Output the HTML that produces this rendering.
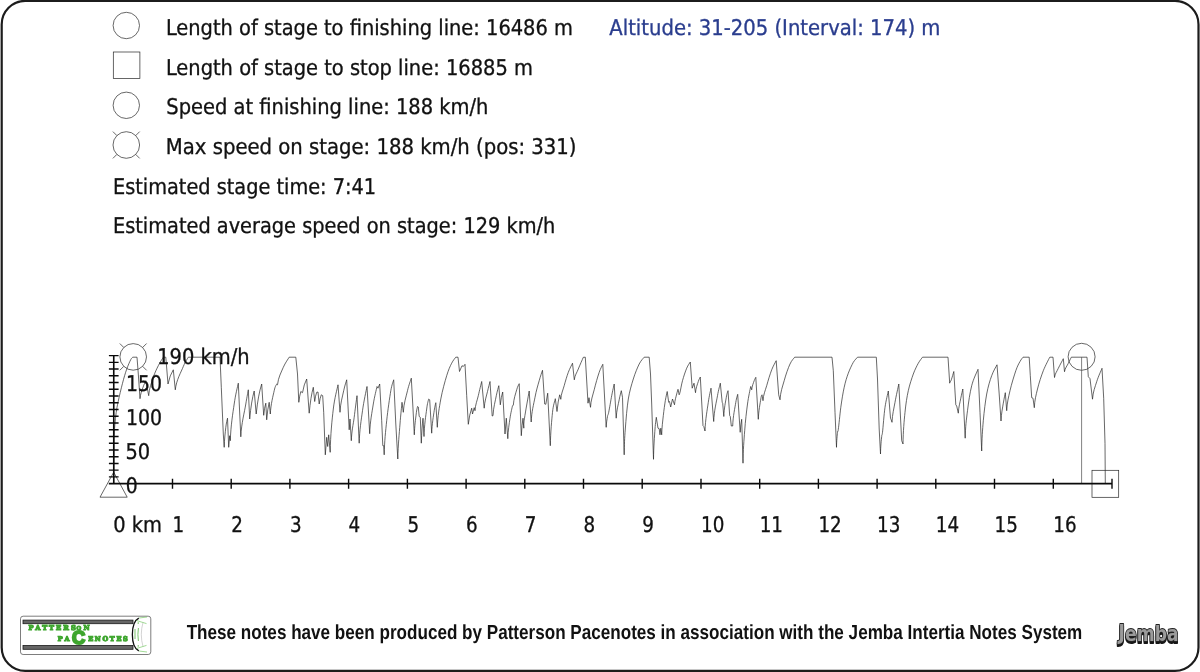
<!DOCTYPE html>
<html lang="en"><head><meta charset="utf-8"><title>Stage speed profile</title>
<style>
html,body{margin:0;padding:0;background:#fff;}
body{width:1200px;height:672px;overflow:hidden;}
svg{display:block}
.t{font-family:"DejaVu Sans Condensed","DejaVu Sans","Liberation Sans",sans-serif;font-size:21.6px;fill:#111;stroke:#111;stroke-width:0.3px;text-rendering:geometricPrecision;}
.b{fill:#2a3d8e;stroke:#2a3d8e;}
.f{font-family:"Liberation Sans",sans-serif;font-weight:bold;font-size:20.4px;fill:#111;text-rendering:geometricPrecision;}
.thin{fill:none;stroke:#262626;stroke-width:0.7;}
.ax{fill:none;stroke:#111;stroke-width:1.4;}
</style></head><body>
<svg width="1200" height="672" viewBox="0 0 1200 672">
<rect x="0" y="0" width="1200" height="672" fill="#fff"/>
<rect x="1.7" y="0.9" width="1196.8" height="670" rx="23.5" ry="23.5" fill="none" stroke="#1c1c1c" stroke-width="2.2"/>
<circle class="thin" cx="126.3" cy="25.5" r="13.2"/>
<rect class="thin" x="113.3" y="52" width="26.6" height="26.5"/>
<circle class="thin" cx="126.3" cy="105.3" r="13.2"/>
<circle class="thin" cx="126.3" cy="145.0" r="13.3"/>
<path class="thin" d="M135.7,154.4 L139.7,158.4 M116.9,154.4 L112.9,158.4 M116.9,135.6 L112.9,131.6 M135.7,135.6 L139.7,131.6"/>
<text class="t" x="165.91" y="35" textLength="407.0" lengthAdjust="spacingAndGlyphs">Length of stage to finishing line: 16486 m</text>
<text class="t" x="165.91" y="75" textLength="366.97" lengthAdjust="spacingAndGlyphs">Length of stage to stop line: 16885 m</text>
<text class="t" x="166.35" y="114" textLength="322.12" lengthAdjust="spacingAndGlyphs">Speed at finishing line: 188 km/h</text>
<text class="t" x="165.84" y="154" textLength="410.62" lengthAdjust="spacingAndGlyphs">Max speed on stage: 188 km/h (pos: 331)</text>
<text class="t" x="112.96" y="194" textLength="263.17" lengthAdjust="spacingAndGlyphs">Estimated stage time: 7:41</text>
<text class="t" x="112.93" y="233" textLength="442.41" lengthAdjust="spacingAndGlyphs">Estimated average speed on stage: 129 km/h</text>
<text class="t b" x="609.34" y="35" textLength="331.1" lengthAdjust="spacingAndGlyphs">Altitude: 31-205 (Interval: 174) m</text>
<path class="thin" d="M113.7,483.7 L114.0,440.0 C114.1,433.7 114.5,429.6 114.8,425.0 C115.2,420.4 115.7,416.4 116.2,412.5 C116.8,408.6 117.1,406.4 118.2,401.5 C119.2,396.6 121.1,388.7 122.5,383.3 C123.9,377.9 125.3,373.1 126.7,369.2 C128.1,365.2 129.8,361.5 130.8,359.5 C131.9,357.5 132.5,357.6 132.8,357.2 L137.0,357.2 L138.3,374.0 L140.0,398.7 C140.4,393.9 142.0,390.3 143.0,387.3 C144.0,384.3 145.4,381.8 145.8,380.7 L148.7,395.7 C149.2,388.0 151.7,382.3 153.3,377.3 C154.9,372.3 156.7,369.0 158.3,365.7 C160.0,362.3 162.5,358.6 163.3,357.2 L165.8,357.2 L168.0,384.0 Q169.9,374.9 173.3,369.8 L175.3,389.8 C176.3,380.0 181.2,371.9 183.3,366.5 C185.5,361.1 187.5,358.8 188.3,357.2 L220.0,357.2 L221.3,387.3 L223.3,434.0 L224.2,447.3 C224.4,438.9 225.3,432.2 225.8,427.3 C226.4,422.5 227.2,419.7 227.5,418.2 L228.7,447.3 L229.7,435.7 L230.3,440.7 C230.8,425.3 232.8,413.6 234.2,404.0 C235.5,394.4 237.6,386.6 238.3,383.2 L240.8,436.8 C241.4,423.0 244.6,411.8 245.8,404.0 C247.1,396.2 247.9,392.2 248.3,389.8 L249.7,419.0 Q251.3,401.1 254.2,391.0 L256.2,414.0 Q258.2,394.8 261.7,384.0 L263.7,415.3 Q264.4,407.5 265.8,403.2 L266.7,419.8 Q267.6,408.6 269.2,402.3 L270.3,414.0 C270.8,404.2 273.1,395.7 274.2,390.7 C275.2,385.7 276.3,385.1 276.7,384.0 L277.5,384.8 C278.2,377.5 281.4,371.9 283.3,367.3 C285.3,362.7 288.2,358.9 289.2,357.2 L295.8,357.2 L297.5,374.0 L298.8,402.3 Q299.6,395.4 300.8,391.5 L302.5,392.7 Q304.0,383.9 306.7,379.0 L309.2,413.2 Q310.7,396.6 313.3,387.3 L314.7,401.5 Q315.4,395.6 316.7,392.3 L318.0,392.0 L319.2,404.0 Q319.9,398.1 321.3,394.8 L322.7,395.7 L323.7,412.3 L325.3,454.8 L326.7,437.3 L327.7,446.5 L328.7,434.8 L330.2,452.3 C330.5,434.1 332.0,420.2 333.3,409.0 C334.6,397.8 337.2,388.9 338.0,384.8 L340.0,412.3 C340.4,403.2 342.6,396.1 343.7,390.7 C344.8,385.3 346.2,381.6 346.7,379.8 L349.2,429.8 L350.0,419.0 L351.3,440.7 C351.7,430.9 353.2,424.8 354.2,417.3 C355.1,409.8 356.5,399.3 357.0,395.7 L359.2,443.2 C359.6,429.5 361.2,420.1 362.5,410.7 C363.8,401.2 366.2,390.5 367.0,386.5 L369.7,433.7 C370.1,421.2 372.1,411.9 373.3,404.0 C374.6,396.1 376.4,389.4 377.0,386.5 L378.0,388.2 L379.7,384.0 L381.7,420.7 L382.8,445.7 L383.7,445.7 L384.2,454.8 C384.5,440.5 385.6,431.4 386.7,420.7 C387.8,410.0 389.7,397.5 390.8,390.7 C392.0,383.9 393.2,381.6 393.7,379.8 L395.8,424.0 L397.8,459.0 C398.1,444.3 399.3,433.4 400.0,424.0 C400.7,414.6 401.7,405.9 402.0,402.3 L403.3,412.3 C403.8,403.2 406.2,396.4 407.5,390.7 C408.8,385.0 410.7,380.3 411.3,378.2 L413.0,409.0 L414.3,434.8 C414.6,426.1 415.6,418.7 416.2,414.0 C416.7,409.3 417.3,407.8 417.5,406.5 L418.3,407.0 L419.2,416.5 L420.3,417.3 L421.3,443.2 Q421.9,427.2 423.0,418.2 L424.0,436.5 C424.3,424.9 425.9,415.2 426.7,409.0 C427.4,402.8 428.3,400.7 428.7,399.0 L429.7,399.8 L431.7,433.2 C432.0,423.7 433.5,415.8 434.2,410.7 C434.9,405.6 435.6,404.0 435.8,402.7 L437.3,427.3 C437.8,415.4 439.3,407.6 440.8,399.0 C442.4,390.4 444.9,381.6 446.7,375.7 C448.5,369.7 450.1,366.2 451.7,363.2 C453.2,360.1 455.1,358.2 455.8,357.2 L458.0,357.2 L459.5,371.5 L462.0,365.7 L463.3,366.5 L465.0,364.3 L466.7,395.7 L468.3,424.3 Q469.5,414.0 471.7,408.2 L472.5,414.0 L474.2,407.7 L475.0,410.7 C475.4,404.4 477.2,400.5 478.3,395.7 C479.4,390.8 481.1,383.9 481.7,381.5 L484.2,408.2 C484.6,401.2 486.5,395.9 487.5,391.5 C488.5,387.1 489.6,383.2 490.0,381.5 L492.2,416.0 L493.0,415.7 C493.4,407.3 495.4,400.7 496.3,395.7 C497.3,390.7 498.4,387.3 498.8,385.7 L500.3,404.8 Q501.2,396.6 502.7,392.0 L505.0,434.0 L506.3,418.2 L507.8,438.7 C508.1,430.1 509.2,423.7 510.0,418.2 C510.8,412.7 512.1,407.8 512.5,405.7 L513.3,405.3 C513.7,398.8 515.7,393.4 516.7,389.8 C517.6,386.2 518.8,384.7 519.2,383.7 L521.3,435.7 Q521.9,424.5 523.0,418.2 L523.8,428.2 C523.9,424.0 523.6,424.4 524.5,418.2 C525.4,412.0 528.4,395.5 529.2,391.0 L531.2,422.0 C531.6,411.6 533.7,404.2 535.0,397.3 C536.3,390.4 537.9,385.2 539.2,380.7 C540.4,376.2 541.9,372.1 542.5,370.3 L544.7,404.0 L545.8,404.3 L547.7,393.2 L550.3,445.7 C550.6,431.7 551.7,420.2 552.5,412.3 C553.3,404.5 554.9,400.9 555.3,398.7 L557.0,411.5 Q558.0,400.8 559.7,394.8 L560.8,399.3 C561.2,393.6 562.9,390.2 564.2,385.7 C565.4,381.2 566.9,376.1 568.3,372.3 C569.7,368.6 571.8,364.7 572.5,363.2 L574.3,379.8 C574.8,375.3 576.8,372.8 578.3,369.0 C579.8,365.2 582.5,359.3 583.3,357.3 L585.3,357.2 L588.0,403.2 L589.0,397.7 L590.5,407.3 C590.9,400.0 592.7,395.7 594.2,389.8 C595.6,384.0 597.7,376.6 599.2,372.3 C600.6,368.1 602.2,365.7 602.8,364.3 L606.2,427.3 C606.3,422.8 607.1,419.0 607.5,416.5 C607.9,414.0 608.0,415.8 608.7,412.3 C609.4,408.9 610.8,400.4 611.7,395.7 C612.6,390.9 613.8,385.9 614.2,384.0 L616.2,418.2 C616.5,410.5 618.3,404.4 619.2,399.8 C620.0,395.2 621.0,392.2 621.3,390.7 L622.5,397.3 L624.2,454.8 C624.3,444.0 624.6,438.3 625.3,429.0 C626.0,419.7 627.0,407.3 628.3,399.0 C629.7,390.7 631.5,384.8 633.3,379.0 C635.1,373.2 637.4,367.6 639.2,364.0 C641.0,360.4 643.3,358.3 644.2,357.2 L649.2,357.2 L650.5,374.0 L651.7,404.0 L653.5,459.3 C653.7,446.6 654.5,436.0 655.0,429.0 C655.5,422.0 656.1,419.3 656.3,417.3 L658.0,428.2 L659.2,428.7 L660.0,434.8 L660.8,428.2 L661.7,434.8 C661.9,426.8 662.7,421.4 663.3,415.7 C663.9,410.0 664.7,404.7 665.3,400.7 C666.0,396.6 666.9,393.0 667.2,391.5 L668.7,402.3 L669.5,401.5 L670.7,407.0 L672.5,399.0 L674.5,404.8 C674.8,400.3 676.1,396.6 676.7,394.0 C677.3,391.4 677.8,390.1 678.0,389.3 L679.2,394.8 C679.3,393.8 679.4,394.7 680.0,392.3 C680.6,390.0 681.4,384.7 682.5,380.7 C683.6,376.6 685.4,371.3 686.7,368.2 C688.0,365.1 689.7,363.0 690.3,362.0 L692.2,388.2 L694.0,383.2 L695.5,392.7 C695.8,388.0 697.5,384.1 698.3,381.5 C699.1,378.9 700.0,377.8 700.3,377.0 L703.0,425.7 L703.8,426.5 L705.0,431.0 C705.4,419.0 707.3,409.5 708.3,402.3 C709.3,395.2 710.6,390.5 711.0,388.2 L713.7,421.5 C714.1,410.7 716.4,402.1 717.5,395.7 C718.6,389.3 719.9,385.3 720.3,383.2 L722.2,402.3 L722.7,403.2 L723.8,416.5 C724.1,408.4 725.6,401.6 726.3,397.3 C727.0,393.0 727.7,391.8 728.0,390.7 L729.7,415.7 L730.3,416.5 L731.3,426.0 L732.7,426.0 C733.0,416.1 735.0,407.6 735.8,402.3 C736.7,397.1 737.4,395.7 737.7,394.3 L740.2,432.3 Q740.7,424.0 741.7,419.3 L743.0,463.2 C743.2,449.5 743.9,440.5 744.7,430.7 C745.4,420.8 746.5,411.4 747.5,404.0 C748.5,396.6 750.1,389.4 750.7,386.5 L751.7,389.8 C752.0,386.0 753.5,382.8 754.2,380.7 C754.9,378.6 755.6,377.9 755.8,377.3 L758.3,419.3 C758.6,410.8 760.2,403.1 760.8,399.0 C761.4,394.9 761.8,395.5 762.0,394.8 L763.0,400.7 C763.4,394.4 765.2,390.8 766.7,385.7 C768.1,380.5 770.1,374.0 771.7,369.8 C773.3,365.7 775.4,362.2 776.2,360.7 L778.7,394.8 L780.0,399.8 C780.5,391.8 782.5,386.6 784.2,380.7 C785.8,374.7 788.2,367.9 790.0,364.0 C791.8,360.1 793.9,358.3 794.7,357.2 L832.0,357.2 L833.3,370.7 L835.0,412.3 L836.5,447.3 C836.6,441.0 837.2,435.3 837.5,432.3 C837.8,429.3 837.8,433.5 838.3,429.3 C838.9,425.2 839.9,414.3 840.8,407.3 C841.8,400.3 842.9,393.0 844.2,387.3 C845.4,381.6 846.8,377.3 848.3,373.2 C849.9,369.0 851.8,365.0 853.3,362.3 C854.9,359.7 856.8,358.1 857.5,357.2 L875.8,357.2 L876.3,357.2 L877.5,379.0 L879.2,429.0 L880.5,454.0 C880.6,446.6 881.3,440.1 881.7,436.5 C882.0,432.9 881.9,437.2 882.5,432.3 C883.1,427.5 884.0,414.2 885.0,407.3 C886.0,400.4 887.8,393.7 888.3,391.0 L890.5,418.2 L891.2,419.8 L892.0,422.3 C892.4,413.9 893.9,408.7 895.0,402.3 C896.1,395.9 898.2,387.1 898.8,384.0 L901.7,440.7 L903.0,444.0 C903.2,430.7 904.1,421.2 905.0,412.3 C905.9,403.4 906.9,397.1 908.3,390.7 C909.7,384.3 911.7,378.6 913.3,374.0 C915.0,369.4 916.8,366.0 918.3,363.2 C919.9,360.4 921.8,358.2 922.5,357.2 L948.0,357.2 L949.7,383.2 C949.9,381.8 950.6,381.8 951.3,379.8 C952.0,377.9 953.4,372.9 953.8,371.5 L955.8,404.8 L956.7,406.0 L958.3,413.2 C958.6,406.9 960.1,402.2 960.8,398.2 C961.6,394.1 962.5,390.5 962.8,389.0 L965.2,438.2 C965.4,426.6 966.4,419.4 967.5,410.7 C968.6,401.9 969.9,392.6 971.7,385.7 C973.4,378.8 976.9,372.1 978.0,369.3 L980.0,412.3 L981.7,451.0 C981.9,438.3 982.5,430.2 983.3,420.7 C984.2,411.2 985.3,401.5 986.7,394.0 C988.1,386.5 989.9,380.5 991.7,375.7 C993.4,370.8 996.1,366.6 997.0,364.8 L999.2,394.0 L1001.0,421.0 C1001.3,413.5 1002.6,407.9 1003.3,403.2 C1004.1,398.4 1005.0,394.4 1005.3,392.7 L1006.7,410.7 C1007.1,402.3 1008.5,397.3 1010.0,390.7 C1011.5,384.0 1014.2,375.5 1015.8,370.7 C1017.5,365.8 1018.8,363.7 1020.0,361.5 C1021.2,359.3 1022.5,357.9 1023.0,357.2 L1029.2,357.2 L1030.3,375.7 L1031.7,397.7 L1033.0,398.2 L1034.3,407.7 C1034.7,399.8 1036.0,395.2 1037.5,389.0 C1039.0,382.8 1041.3,375.9 1043.3,370.7 C1045.4,365.4 1048.6,359.6 1049.7,357.3 L1050.0,357.2 L1053.0,357.2 L1054.5,377.5 C1055.0,373.6 1056.9,371.5 1058.3,368.3 C1059.8,365.2 1062.5,360.3 1063.3,358.7 L1064.5,371.7 C1065.0,368.2 1067.2,365.7 1068.3,363.3 C1069.5,360.9 1070.8,358.2 1071.3,357.2 L1087.0,357.2 L1088.3,376.7 L1090.0,378.7 L1092.5,399.2 C1093.0,391.8 1095.1,386.8 1096.7,381.7 C1098.3,376.5 1101.1,370.6 1102.0,368.3 L1103.7,398.3 L1105.0,443.3 L1105.3,483.7" stroke-linejoin="round"/>
<circle class="thin" cx="133.2" cy="356.9" r="13.3"/>
<path class="thin" d="M142.6,366.3 L146.6,370.3 M123.8,366.3 L119.8,370.3 M123.8,347.5 L119.8,343.5 M142.6,347.5 L146.6,343.5"/>
<circle class="thin" cx="1081.6" cy="356.8" r="13.5"/>
<path class="thin" d="M1081.6,357.2 L1081.6,483.65" style="stroke:#4a4a4a"/>
<rect class="thin" x="1092" y="470.3" width="26.7" height="27"/>
<path class="thin" d="M113.7,472.2 L127.2,497.2 L100,497.2 Z"/>
<path d="M108.9,476.91 L118.6,476.91 M108.9,470.17 L118.6,470.17 M108.9,463.43 L118.6,463.43 M108.9,456.69 L118.6,456.69 M108.9,449.95 L118.6,449.95 M108.9,443.21 L118.6,443.21 M108.9,436.47 L118.6,436.47 M108.9,429.73 L118.6,429.73 M108.9,422.99 L118.6,422.99 M108.9,416.25 L118.6,416.25 M108.9,409.51 L118.6,409.51 M108.9,402.77 L118.6,402.77 M108.9,396.03 L118.6,396.03 M108.9,389.29 L118.6,389.29 M108.9,382.55 L118.6,382.55 M108.9,375.81 L118.6,375.81 M108.9,369.07 L118.6,369.07 M108.9,362.33 L118.6,362.33 M108.9,355.59 L118.6,355.59" fill="none" stroke="#0a0a0a" stroke-width="1.4"/>
<path d="M172.5,478.65 L172.5,488.65 M231.2,478.65 L231.2,488.65 M289.9,478.65 L289.9,488.65 M348.6,478.65 L348.6,488.65 M407.4,478.65 L407.4,488.65 M466.1,478.65 L466.1,488.65 M524.8,478.65 L524.8,488.65 M583.5,478.65 L583.5,488.65 M642.2,478.65 L642.2,488.65 M701.0,478.65 L701.0,488.65 M759.7,478.65 L759.7,488.65 M818.4,478.65 L818.4,488.65 M877.1,478.65 L877.1,488.65 M935.8,478.65 L935.8,488.65 M994.5,478.65 L994.5,488.65 M1053.3,478.65 L1053.3,488.65 M1112.0,478.65 L1112.0,488.65" fill="none" stroke="#0a0a0a" stroke-width="1.4"/>
<path d="M113.75,355.1 L113.75,483.65 M108.8,483.65 L1112.0,483.65" fill="none" stroke="#0a0a0a" stroke-width="1.6"/>
<text class="t" x="157.22" y="364" textLength="92.46" lengthAdjust="spacingAndGlyphs">190 km/h</text>
<text class="t" x="126.07" y="391" textLength="36.02" lengthAdjust="spacingAndGlyphs">150</text>
<text class="t" x="126.07" y="425" textLength="36.02" lengthAdjust="spacingAndGlyphs">100</text>
<text class="t" x="125.45" y="459" textLength="24.7" lengthAdjust="spacingAndGlyphs">50</text>
<text class="t" x="125.72" y="493" textLength="11.92" lengthAdjust="spacingAndGlyphs">0</text>
<text class="t" x="113.15" y="532" textLength="48.75" lengthAdjust="spacingAndGlyphs">0 km</text>
<text class="t" x="172.5" y="532" textLength="11.65" lengthAdjust="spacingAndGlyphs">1</text>
<text class="t" x="231.2" y="532" textLength="11.65" lengthAdjust="spacingAndGlyphs">2</text>
<text class="t" x="289.9" y="532" textLength="11.65" lengthAdjust="spacingAndGlyphs">3</text>
<text class="t" x="348.6" y="532" textLength="11.65" lengthAdjust="spacingAndGlyphs">4</text>
<text class="t" x="407.4" y="532" textLength="11.65" lengthAdjust="spacingAndGlyphs">5</text>
<text class="t" x="466.1" y="532" textLength="11.65" lengthAdjust="spacingAndGlyphs">6</text>
<text class="t" x="524.8" y="532" textLength="11.65" lengthAdjust="spacingAndGlyphs">7</text>
<text class="t" x="583.5" y="532" textLength="11.65" lengthAdjust="spacingAndGlyphs">8</text>
<text class="t" x="642.2" y="532" textLength="11.65" lengthAdjust="spacingAndGlyphs">9</text>
<text class="t" x="701.0" y="532" textLength="23.3" lengthAdjust="spacingAndGlyphs">10</text>
<text class="t" x="759.7" y="532" textLength="23.3" lengthAdjust="spacingAndGlyphs">11</text>
<text class="t" x="818.4" y="532" textLength="23.3" lengthAdjust="spacingAndGlyphs">12</text>
<text class="t" x="877.1" y="532" textLength="23.3" lengthAdjust="spacingAndGlyphs">13</text>
<text class="t" x="935.8" y="532" textLength="23.3" lengthAdjust="spacingAndGlyphs">14</text>
<text class="t" x="994.5" y="532" textLength="23.3" lengthAdjust="spacingAndGlyphs">15</text>
<text class="t" x="1053.3" y="532" textLength="23.3" lengthAdjust="spacingAndGlyphs">16</text>
<text class="f" x="186.67" y="639" textLength="895.64" lengthAdjust="spacingAndGlyphs">These notes have been produced by Patterson Pacenotes in association with the Jemba Intertia Notes System</text>
<g id="pp-logo">
<rect x="20.5" y="616.2" width="130.3" height="38.3" rx="2.6" ry="2.6" fill="#fff" stroke="#6e6e6e" stroke-width="0.9"/>
<rect x="23" y="620.1" width="110" height="3.6" fill="#666" stroke="#1a1a1a" stroke-width="0.8"/>
<rect x="23" y="645.5" width="110" height="3.8" fill="#666" stroke="#1a1a1a" stroke-width="0.8"/>
<text x="28.6" y="630.3" font-family="'DejaVu Serif','Liberation Serif',serif" font-weight="bold" font-size="6.7" letter-spacing="2.1" fill="#3ea62e" stroke="#3ea62e" stroke-width="1.1">PATTERS<tspan x="76.5" y="630" font-size="5.4" letter-spacing="0" stroke-width="1">O</tspan><tspan x="83.6" y="630.3" letter-spacing="0">N</tspan></text>
<text x="57.8" y="640.5" font-family="'DejaVu Serif','Liberation Serif',serif" font-weight="bold" font-size="6.5" letter-spacing="2.2" fill="#3ea62e" stroke="#3ea62e" stroke-width="1.1">PA<tspan x="72.0" y="644" font-family="'Liberation Sans',sans-serif" font-size="18.2" letter-spacing="0" stroke-width="2">C</tspan><tspan x="88.2" y="640.5" letter-spacing="1.7">ENOTES</tspan></text>
<path d="M138.8,618.1 C130.2,622.5 130.2,646.5 138.8,650.9" fill="none" stroke="#101010" stroke-width="1.3"/>
<path d="M143,622.5 Q139.6,634.5 143,646.5" fill="none" stroke="#b5b5b5" stroke-width="0.6"/>
<path d="M136.5,620.5 L146.5,623.6 M136.5,648.5 L146.5,645.4 M139,618 L147,617 M139,651 L147,652" fill="none" stroke="#63c24f" stroke-width="0.6"/>
<path d="M135,629 L135,639 M138.4,628 Q137.4,634.5 138.4,641 M138.2,622.2 L138.2,624 M138.2,645 L138.2,646.8" fill="none" stroke="#58b548" stroke-width="0.8"/>
</g>
<g id="jemba-logo">
<text x="1118.6" y="641.3" font-family="'DejaVu Sans','Liberation Sans',sans-serif" font-weight="bold" font-size="22" textLength="60" lengthAdjust="spacingAndGlyphs" fill="#9b9b9b" stroke="#222" stroke-width="1.9" stroke-linejoin="round" paint-order="stroke" style="filter:drop-shadow(0.7px 2.2px 0 #161616)"><tspan dy="-1.7">J</tspan><tspan dy="1.7">emba</tspan></text>
</g>
</svg></body></html>
